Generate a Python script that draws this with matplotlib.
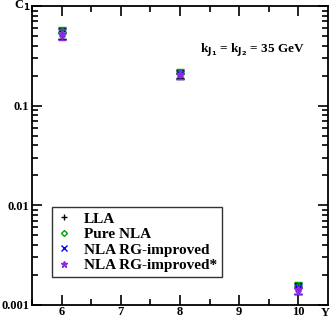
import numpy as np
import matplotlib.pyplot as plt
from matplotlib.lines import Line2D
from matplotlib.ticker import FixedLocator, LogLocator, NullFormatter

plt.rcParams['font.family'] = ['Liberation Serif', 'DejaVu Serif']
plt.rcParams['font.weight'] = 'bold'

# data
rapidity = [6, 8, 10]
series = ['LLA', 'Pure NLA', 'NLA RG-improved', 'NLA RG-improved*']
c1_lla = [0.54, 0.210, 0.00150]
c1_nla = [0.55, 0.212, 0.00152]
c1_rg = [0.535, 0.208, 0.00148]
c1_rgs = [0.53, 0.206, 0.00146]
err_lo = [[0.075, 0.022, 0.00020], [0.085, 0.026, 0.00024],
          [0.07, 0.021, 0.00019], [0.07, 0.020, 0.00018]]
err_hi = [[0.06, 0.018, 0.00015], [0.07, 0.022, 0.00018],
          [0.055, 0.017, 0.00014], [0.055, 0.016, 0.00013]]
values = [c1_lla, c1_nla, c1_rg, c1_rgs]

colors = ['black', '#00a000', '#0000ff', '#8a2be2']
markers = ['+', 'D', 'x', '*']
mfc = ['black', 'none', '#0000ff', '#8a2be2']
msize = [6, 4, 5, 6]

fig = plt.figure(figsize=(3.34, 3.19), dpi=100)
ax = fig.add_axes([0.096, 0.044, 0.886, 0.937])

for i in range(4):
    ax.errorbar(rapidity, values[i], yerr=[err_lo[i], err_hi[i]],
                fmt=markers[i], color=colors[i], mfc=mfc[i], ms=msize[i],
                mew=1, elinewidth=1, capsize=3, capthick=1)

ax.set_yscale('log')
ax.set_ylim(0.001, 1)
ax.set_xlim(5.5, 10.5)

ax.xaxis.set_major_locator(FixedLocator([6, 7, 8, 9, 10]))
ax.xaxis.set_minor_locator(FixedLocator([5.5, 6.5, 7.5, 8.5, 9.5]))
ax.set_yticks([0.001, 0.01, 0.1, 1])
ax.set_yticklabels(['0.001', '0.01', '0.1', ''])
ax.yaxis.set_minor_locator(LogLocator(base=10, subs=np.arange(2, 10)))
ax.yaxis.set_minor_formatter(NullFormatter())

ax.tick_params(which='both', direction='in', top=True, right=True,
               labelsize=9, width=1.2)
ax.tick_params(which='major', length=7, pad=2)
ax.tick_params(which='minor', length=4)
ax.tick_params(axis='x', pad=1)
for s in ax.spines.values():
    s.set_linewidth(1.3)

ax.text(-0.034, 1.0, r'C$_\mathbf{1}$', transform=ax.transAxes,
        ha='center', va='center', fontsize=9, fontweight='bold')
ax.text(0.99, -0.027, 'Y', transform=ax.transAxes,
        ha='center', va='center', fontsize=9, fontweight='bold')
ax.text(0.743, 0.853, r'k$_{\mathbf{J_1}}$ = k$_{\mathbf{J_2}}$ = 35 GeV',
        transform=ax.transAxes, ha='center', va='center',
        fontsize=9.5, fontweight='bold')

handles = [Line2D([], [], ls='none', marker=markers[i], color=colors[i],
                  mfc=mfc[i], ms=msize[i] - 1, mew=1) for i in range(4)]
leg = ax.legend(handles, series, loc='lower left',
                bbox_to_anchor=(0.068, 0.094), fontsize=11,
                frameon=True, fancybox=False, edgecolor='black',
                handlelength=1.0, handletextpad=0.8, labelspacing=0.12,
                borderpad=0.3, borderaxespad=0)
leg.get_frame().set_linewidth(1.0)

fig.savefig('out.png', dpi=100)
